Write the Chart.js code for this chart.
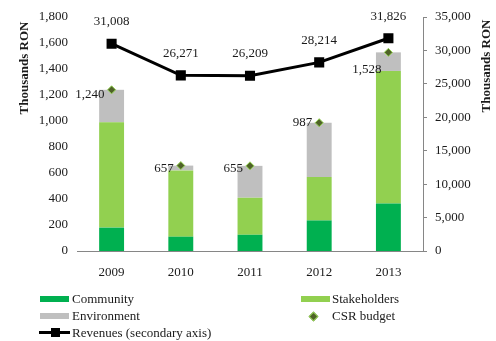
<!DOCTYPE html>
<html>
<head>
<meta charset="utf-8">
<script src="https://cdn.jsdelivr.net/npm/chart.js@4"></script>
<style>
  body { margin: 0; background: #fff; }
  #wrap { position: relative; width: 496px; height: 341px; }
  .leg { position: absolute; font: 13px "Liberation Serif", serif; color: #1a1a1a; line-height: 15px; white-space: nowrap; }
  .sw { position: absolute; width: 29px; height: 6px; }
</style>
</head>
<body>
<div id="wrap">
  <canvas id="chart" width="496" height="341"></canvas>
  <div class="sw" style="left:40px;top:296px;background:#00b050"></div>
  <div class="leg" style="left:72px;top:291px">Community</div>
  <div class="sw" style="left:301px;top:296px;background:#92d050"></div>
  <div class="leg" style="left:332px;top:291px">Stakeholders</div>
  <div class="sw" style="left:40px;top:313px;background:#bfbfbf"></div>
  <div class="leg" style="left:72px;top:308px">Environment</div>
  <div style="position:absolute;left:310px;top:313px;width:5px;height:5px;background:#4f6228;border:1px solid #92d050;transform:rotate(45deg)"></div>
  <div class="leg" style="left:332px;top:308px">CSR budget</div>
  <div style="position:absolute;left:39px;top:331px;width:31px;height:3px;background:#000"></div>
  <div style="position:absolute;left:51px;top:328px;width:9px;height:9px;background:#000"></div>
  <div class="leg" style="left:72px;top:325px">Revenues (secondary axis)</div>
</div>
<script>
const years = ['2009', '2010', '2011', '2012', '2013'];
const community = [180, 110, 125, 235, 365];
const stakeholders = [810, 510, 285, 335, 1020];
const environment = [250, 37, 245, 417, 143];
const csrBudget = [1240, 657, 655, 987, 1528];
const revenues = [31008, 26271, 26209, 28214, 31826];

const serif = '"Liberation Serif", "Times New Roman", serif';
const fmt = v => Number(v).toLocaleString('en-US');

// data labels + axis titles drawn straight on the canvas
const labelsPlugin = {
  id: 'labels',
  afterDatasetsDraw(chart, args, opts) {
    const ctx = chart.ctx;
    ctx.save();
    ctx.font = '13px ' + serif;
    ctx.fillStyle = '#1a1a1a';
    ctx.textBaseline = 'middle';

    const revMeta = chart.getDatasetMeta(4);
    ctx.textAlign = 'center';
    revMeta.data.forEach((pt, i) => {
      ctx.fillText(fmt(revenues[i]), pt.x, pt.y - opts.revDy);
    });

    const csrMeta = chart.getDatasetMeta(3);
    ctx.textAlign = 'right';
    csrMeta.data.forEach((pt, i) => {
      ctx.fillText(fmt(csrBudget[i]), pt.x - 7, pt.y + opts.csrDy[i]);
    });

    ctx.font = 'bold 13px ' + serif;
    ctx.textAlign = 'center';
    [[25, 68], [487, 66]].forEach(p => {
      ctx.save();
      ctx.translate(p[0], p[1]);
      ctx.rotate(-Math.PI / 2);
      ctx.fillText('Thousands RON', 0, 0);
      ctx.restore();
    });
    ctx.restore();
  }
};

const tickFont = { family: serif, size: 13 };

new Chart(document.getElementById('chart'), {
  type: 'bar',
  data: {
    labels: years,
    datasets: [
      { label: 'Community', data: community, backgroundColor: '#00b050', stack: 'csr-bars', yAxisID: 'y', order: 3,
        barPercentage: 0.36, categoryPercentage: 1 },
      { label: 'Stakeholders', data: stakeholders, backgroundColor: '#92d050', stack: 'csr-bars', yAxisID: 'y', order: 3,
        barPercentage: 0.36, categoryPercentage: 1 },
      { label: 'Environment', data: environment, backgroundColor: '#bfbfbf', stack: 'csr-bars', yAxisID: 'y', order: 3,
        barPercentage: 0.36, categoryPercentage: 1 },
      { type: 'line', label: 'CSR budget', data: csrBudget, stack: 'budget', yAxisID: 'y', order: 1,
        showLine: false, pointStyle: 'rectRot', pointRadius: 4, pointBackgroundColor: '#4f6228',
        pointBorderColor: '#92d050', pointBorderWidth: 1 },
      { type: 'line', label: 'Revenues (secondary axis)', data: revenues, yAxisID: 'y1', order: 0,
        borderColor: '#000', borderWidth: 3, tension: 0, pointStyle: 'rect', pointRadius: 5,
        pointBackgroundColor: '#000', pointBorderColor: '#000' }
    ]
  },
  options: {
    responsive: false,
    animation: false,
    layout: { padding: { top: 17, bottom: 0, left: 0, right: 0 } },
    plugins: {
      legend: { display: false },
      tooltip: { enabled: false },
      labels: { revDy: 22, csrDy: [5, 3, 3, 0, 17] }
    },
    scales: {
      x: {
        stacked: true,
        grid: { display: false, drawTicks: false },
        border: { color: '#868686', width: 1 },
        ticks: { font: tickFont, color: '#1a1a1a', padding: 14 },
        afterFit: s => { s.height = 90; }
      },
      y: {
        stacked: true,
        position: 'left',
        min: 0, max: 1800,
        grid: { display: false, drawTicks: false },
        border: { display: false },
        ticks: { stepSize: 200, font: tickFont, color: '#1a1a1a', padding: 9, callback: v => fmt(v) },
        afterFit: s => { s.width = 77; }
      },
      y1: {
        position: 'right',
        min: 0, max: 35000,
        grid: { drawOnChartArea: false, drawTicks: true, tickLength: 4, color: '#868686' },
        border: { display: true, color: '#868686' },
        ticks: { stepSize: 5000, font: tickFont, color: '#1a1a1a', padding: 8, callback: v => fmt(v) },
        afterFit: s => { s.width = 73; }
      }
    }
  },
  plugins: [labelsPlugin]
});
</script>
</body>
</html>
